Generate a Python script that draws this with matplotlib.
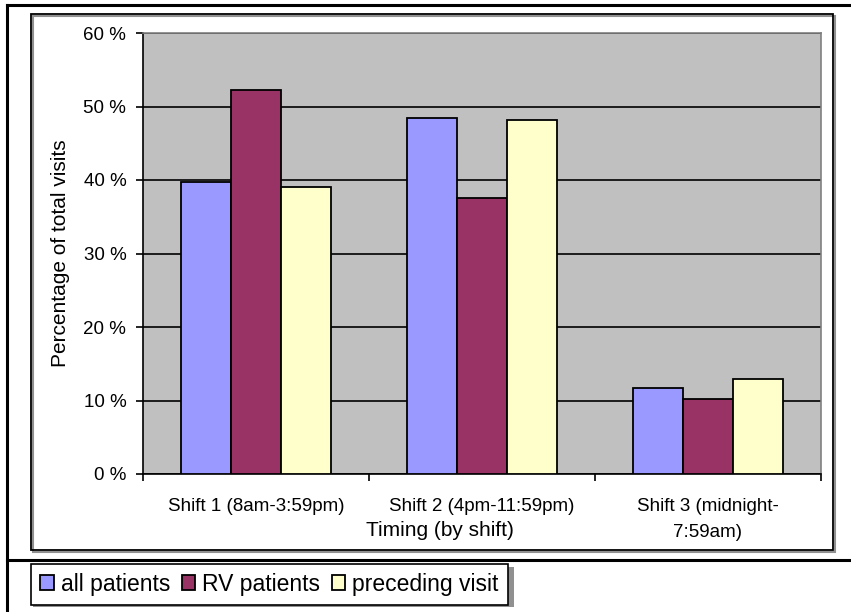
import matplotlib
matplotlib.use("Agg")
import matplotlib.pyplot as plt
from matplotlib.lines import Line2D
from matplotlib.patches import Rectangle
import numpy as np

plt.rcParams["font.family"] = ["Liberation Sans", "DejaVu Sans"]

shifts = ["Shift 1 (8am-3:59pm)", "Shift 2 (4pm-11:59pm)", "Shift 3 (midnight-\n7:59am)"]
series = ["all patients", "RV patients", "preceding visit"]
all_patients = [39.7, 48.5, 11.7]
rv_patients = [52.2, 37.6, 10.2]
preceding_visit = [39.0, 48.1, 12.9]
colors = ["#9999FF", "#993366", "#FFFFCC"]
y_ticks = [0, 10, 20, 30, 40, 50, 60]

W, H = 851, 612
fig = plt.figure(figsize=(W / 100, H / 100), dpi=100)


def fx(px):
    return px / W


def fy(py):
    return 1 - py / H


# outer cell lines
fig.add_artist(Line2D([fx(7), 1], [fy(5), fy(5)], color="black", lw=2.2))
fig.add_artist(Line2D([fx(7), fx(7)], [fy(5), 0], color="black", lw=2.2))
fig.add_artist(Line2D([fx(7), 1], [fy(560), fy(560)], color="black", lw=2.2))

# chart border with a grey drop shadow
fig.add_artist(Rectangle((fx(33), fy(552)), fx(835) - fx(33), fy(16) - fy(552),
                         facecolor="none", edgecolor="#909090", lw=1.5))
fig.add_artist(Rectangle((fx(31), fy(550)), fx(833) - fx(31), fy(14) - fy(550),
                         facecolor="none", edgecolor="black", lw=1.3))

ax = fig.add_axes([fx(143), fy(474), fx(821) - fx(143), fy(33) - fy(474)])
ax.set_facecolor("#C0C0C0")

x = np.arange(len(shifts))
width = 0.22
for i, (vals, name) in enumerate(zip([all_patients, rv_patients, preceding_visit], series)):
    ax.bar(x + (i - 1) * width, vals, width, color=colors[i], edgecolor="black",
           linewidth=1.3, label=name, zorder=3)

ax.set_xlim(-0.5, 2.5)
ax.set_ylim(0, 60)
ax.set_yticks(y_ticks)
ax.set_yticklabels([f"{t} %" for t in y_ticks], fontsize=13.5)
ax.yaxis.grid(True, color="black", lw=1.2, zorder=1)
ax.set_axisbelow(True)

# category labels sit between the boundary ticks
ax.set_xticks([-0.5, 0.5, 1.5, 2.5])
ax.set_xticklabels([])
ax.set_xticks(x, minor=True)
ax.set_xticklabels(shifts, minor=True, fontsize=13.5, linespacing=1.75)
ax.tick_params(axis="x", which="minor", length=0, pad=17)
ax.tick_params(axis="x", which="major", length=5, width=1.2, direction="out")
ax.tick_params(axis="y", length=5, width=1.2, direction="out", pad=7)

for side in ["top", "right"]:
    ax.spines[side].set_color("#808080")
    ax.spines[side].set_linewidth(1.2)
for side in ["left", "bottom"]:
    ax.spines[side].set_color("black")
    ax.spines[side].set_linewidth(1.2)

ax.set_ylabel("Percentage of total visits", fontsize=15, labelpad=10)
fig.text(fx(440), fy(531), "Timing (by shift)", ha="center", va="center", fontsize=15)

# legend box with its shadow
fig.add_artist(Rectangle((fx(33), fy(607)), fx(514) - fx(33), fy(567) - fy(607),
                         facecolor="#909090", edgecolor="none"))
handles, labels = ax.get_legend_handles_labels()
leg = fig.legend(handles, labels, loc="lower left",
                 bbox_to_anchor=(fx(31), fy(605)), ncol=3, frameon=True,
                 fancybox=False, fontsize=16.5, handlelength=0.6, handleheight=0.6,
                 handletextpad=0.3, columnspacing=0.5, borderpad=0.4,
                 borderaxespad=0)
leg.get_frame().set_edgecolor("black")
leg.get_frame().set_linewidth(1.2)
leg.get_frame().set_alpha(1)

fig.savefig("out.png", dpi=100)
